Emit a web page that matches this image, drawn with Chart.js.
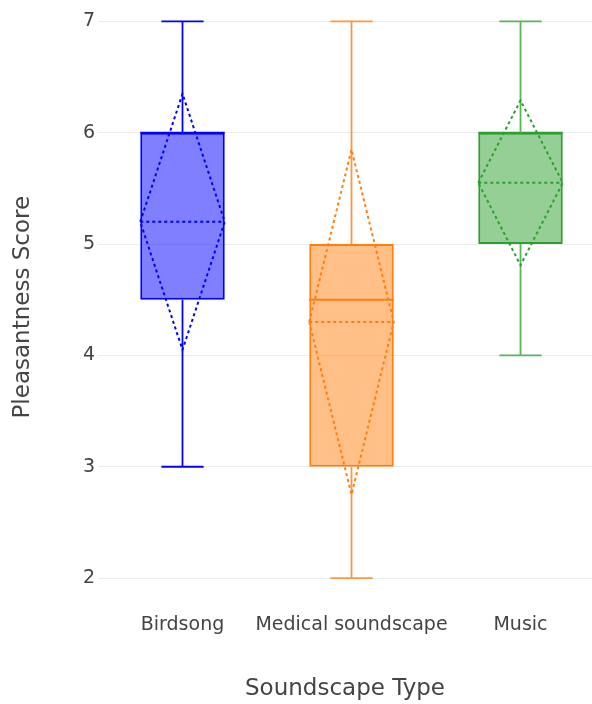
<!DOCTYPE html>
<html>
<head>
<meta charset="utf-8">
<script src="https://cdn.jsdelivr.net/npm/chart.js@4.4.0/dist/chart.umd.min.js"></script>
<style>
  html, body { margin: 0; padding: 0; background: #fff; }
  #wrap { width: 592px; height: 704px; }
</style>
</head>
<body>
<div id="wrap"><canvas id="boxChart" width="592" height="704"></canvas></div>
<script>
// Box plot summary per soundscape type
const categories = ['Birdsong', 'Medical soundscape', 'Music'];
const minVals = [3, 2, 4];
const q1Vals = [4.5, 3, 5];
const medianVals = [6, 4.5, 6];
const q3Vals = [6, 5, 6];
const maxVals = [7, 7, 7];
const meanVals = [5.2, 4.3, 5.55];
const sdVals = [1.15, 1.55, 0.74];
const yTicks = [2, 3, 4, 5, 6, 7];

const lineColors = ['#0000ff', '#ff7f0e', '#2ca02c'];
const whiskerColors = ['#0000ff', '#ff9540', '#55b855'];
const fillColors = ['rgba(0,0,255,0.5)', 'rgba(255,127,14,0.5)', 'rgba(44,160,44,0.5)'];

const BOX_HALF = 0.25;
const CAP_HALF = 0.125;
const GAP = { x: NaN, y: null };

const datasets = [];

// boxes (q1 -> q3) as floating bars
datasets.push({
    type: 'bar',
    data: categories.map((c, i) => ({ x: i, y: [q1Vals[i], q3Vals[i]] })),
    backgroundColor: fillColors,
    borderColor: lineColors,
    borderWidth: 2,
    borderSkipped: false,
    barPercentage: 0.5,
    categoryPercentage: 1,
    order: 10
});

categories.forEach((c, i) => {
    const lineBase = {
        type: 'line',
        borderColor: lineColors[i],
        pointRadius: 0,
        tension: 0,
        fill: false,
        spanGaps: false,
        borderCapStyle: 'butt',
        order: 1
    };
    // whiskers and caps
    datasets.push(Object.assign({}, lineBase, {
        borderWidth: 1.8,
        borderColor: whiskerColors[i],
        data: [
            { x: i, y: q3Vals[i] }, { x: i, y: maxVals[i] }, GAP,
            { x: i - CAP_HALF, y: maxVals[i] }, { x: i + CAP_HALF, y: maxVals[i] }, GAP,
            { x: i, y: q1Vals[i] }, { x: i, y: minVals[i] }, GAP,
            { x: i - CAP_HALF, y: minVals[i] }, { x: i + CAP_HALF, y: minVals[i] }
        ]
    }));
    // median
    datasets.push(Object.assign({}, lineBase, {
        borderWidth: 2,
        data: [{ x: i - BOX_HALF, y: medianVals[i] }, { x: i + BOX_HALF, y: medianVals[i] }]
    }));
    // mean line and sd diamond (dotted)
    datasets.push(Object.assign({}, lineBase, {
        borderWidth: 2,
        borderDash: [3, 3],
        order: 0,
        data: [
            { x: i - BOX_HALF, y: meanVals[i] }, { x: i + BOX_HALF, y: meanVals[i] }, GAP,
            { x: i - BOX_HALF, y: meanVals[i] }, { x: i, y: meanVals[i] + sdVals[i] },
            { x: i + BOX_HALF, y: meanVals[i] }, { x: i, y: meanVals[i] - sdVals[i] },
            { x: i - BOX_HALF, y: meanVals[i] }
        ]
    }));
});

const ctx = document.getElementById('boxChart').getContext('2d');
const chart = new Chart(ctx, {
    type: 'bar',
    data: { datasets: datasets },
    options: {
        responsive: false,
        animation: false,
        events: [],
        layout: { padding: 0 },
        plugins: {
            legend: { display: false },
            tooltip: { enabled: false }
        },
        scales: {
            x: {
                type: 'linear',
                min: -0.5,
                max: 2.423,
                offset: false,
                grid: { display: false, drawTicks: false, offset: false },
                border: { display: false },
                afterBuildTicks: (scale) => {
                    scale.ticks = categories.map((c, i) => ({ value: i }));
                },
                afterFit: (scale) => { scale.height = 104; },
                ticks: {
                    autoSkip: false,
                    maxRotation: 0,
                    padding: 14,
                    color: '#444',
                    font: { family: 'DejaVu Sans', size: 19 },
                    callback: (v) => categories[v]
                },
                title: {
                    display: true,
                    text: 'Soundscape Type',
                    color: '#444',
                    font: { family: 'DejaVu Sans', size: 23 },
                    padding: { top: 0, bottom: 1 }
                }
            },
            y: {
                min: 1.803,
                max: 7.063,
                grid: { color: '#ebebeb', lineWidth: 1, drawTicks: false },
                border: { display: false },
                afterBuildTicks: (scale) => {
                    scale.ticks = yTicks.map(v => ({ value: v }));
                },
                afterFit: (scale) => { scale.width = 98; },
                ticks: {
                    padding: 3,
                    color: '#444',
                    font: { family: 'DejaVu Sans', size: 19 }
                },
                title: {
                    display: true,
                    text: 'Pleasantness Score',
                    color: '#444',
                    font: { family: 'DejaVu Sans', size: 23 },
                    padding: { top: 9, bottom: 0 }
                }
            }
        }
    }
});
</script>
</body>
</html>
